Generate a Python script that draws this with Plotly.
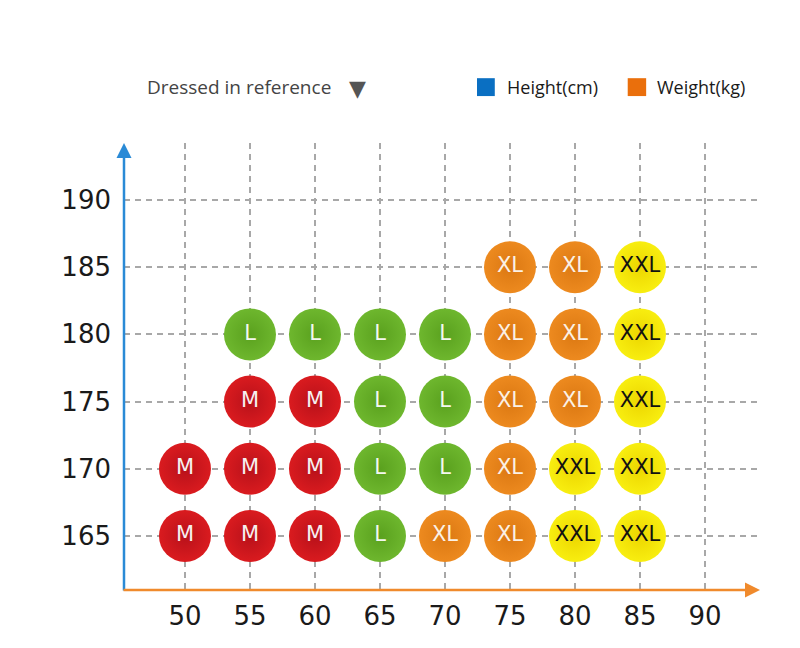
import plotly.graph_objects as go

weights = [50, 55, 60, 65, 70, 75, 80, 85]
heights = [165, 170, 175, 180, 185]
x_ticks = [50, 55, 60, 65, 70, 75, 80, 85, 90]
y_ticks = [165, 170, 175, 180, 185, 190]

# size label per height row (165 -> 185), per weight column (50 -> 85); "" = none
size_rows = {
    165: ["M", "M", "M", "L", "XL", "XL", "XXL", "XXL"],
    170: ["M", "M", "M", "L", "L", "XL", "XXL", "XXL"],
    175: ["", "M", "M", "L", "L", "XL", "XL", "XXL"],
    180: ["", "L", "L", "L", "L", "XL", "XL", "XXL"],
    185: ["", "", "", "", "", "XL", "XL", "XXL"],
}

size_colors = {"M": "#da1b1f", "L": "#6eb72e", "XL": "#ed8a1f", "XXL": "#f8ee10"}
size_edge = {"M": "#b8111a", "L": "#5aa11e", "XL": "#db7812", "XXL": "#ecd600"}
text_colors = {"M": "#f6f0f0", "L": "#f4f8f0", "XL": "#fbf1e6", "XXL": "#111111"}

fig = go.Figure()

for size in ["M", "L", "XL", "XXL"]:
    xs, ys = [], []
    for h in heights:
        for w, s in zip(weights, size_rows[h]):
            if s == size:
                xs.append(w)
                ys.append(h)
    fig.add_trace(go.Scatter(
        x=xs, y=ys, mode="markers+text",
        text=[size] * len(xs),
        textposition="middle center",
        textfont=dict(family="DejaVu Sans", size=21, color=text_colors[size]),
        marker=dict(size=52, color=size_colors[size],
                    line=dict(width=0),
                    gradient=dict(type="radial", color=size_edge[size])),
        showlegend=False, hoverinfo="skip",
    ))

fig.update_xaxes(
    range=[45.31, 94.23], tickvals=x_ticks, ticktext=[str(v) for v in x_ticks],
    showgrid=True, gridcolor="#a8a8a8", gridwidth=1.5, griddash="6px,5px",
    zeroline=False, showline=False, ticks="", ticklabelstandoff=8,
    tickfont=dict(family="DejaVu Sans", size=26, color="#1a1a1a"),
)
fig.update_yaxes(
    range=[160.98, 194.24], tickvals=y_ticks, ticktext=[str(v) for v in y_ticks],
    showgrid=True, gridcolor="#a8a8a8", gridwidth=1.5, griddash="6px,5px",
    zeroline=False, showline=False, ticks="", ticklabelstandoff=12,
    tickfont=dict(family="DejaVu Sans", size=26, color="#1a1a1a"),
)

annotations = [
    # axis arrows
    dict(x=0, y=1.0, xref="paper", yref="paper", ax=0, ay=449, axref="pixel", ayref="pixel",
         showarrow=True, arrowhead=2, arrowsize=1.2, arrowwidth=2.5, arrowcolor="#2a8ad6", text=""),
    dict(x=1.0, y=0, xref="paper", yref="paper", ax=-638, ay=0, axref="pixel", ayref="pixel",
         showarrow=True, arrowhead=2, arrowsize=1.2, arrowwidth=2.5, arrowcolor="#f08a2c", text=""),
    # header texts
    dict(x=0.033, y=1.125, xref="paper", yref="paper", xanchor="left", yanchor="middle",
         text="Dressed in reference", showarrow=False,
         font=dict(family="Open Sans", size=19, color="#444444")),
    dict(x=0.367, y=1.122, xref="paper", yref="paper", xanchor="center", yanchor="middle",
         text="▼", showarrow=False,
         font=dict(family="DejaVu Sans", size=22, color="#555555")),
    dict(x=0.599, y=1.125, xref="paper", yref="paper", xanchor="left", yanchor="middle",
         text="Height(cm)", showarrow=False,
         font=dict(family="Open Sans", size=18, color="#1a1a1a")),
    dict(x=0.835, y=1.125, xref="paper", yref="paper", xanchor="left", yanchor="middle",
         text="Weight(kg)", showarrow=False,
         font=dict(family="Open Sans", size=18, color="#1a1a1a")),
]

shapes = [
    dict(type="rect", xref="paper", yref="paper", x0=0.555, x1=0.583, y0=1.105, y1=1.145,
         fillcolor="#0a6fc2", line=dict(width=0)),
    dict(type="rect", xref="paper", yref="paper", x0=0.792, x1=0.821, y0=1.105, y1=1.145,
         fillcolor="#ea6f0c", line=dict(width=0)),
]

# the page body adds an 8px offset, so the figure is 8px smaller on each side
fig.update_layout(
    width=792, height=640,
    margin=dict(l=116, r=40, t=135, b=58),
    plot_bgcolor="white", paper_bgcolor="white",
    annotations=annotations, shapes=shapes,
)

fig.write_html("out.html")
